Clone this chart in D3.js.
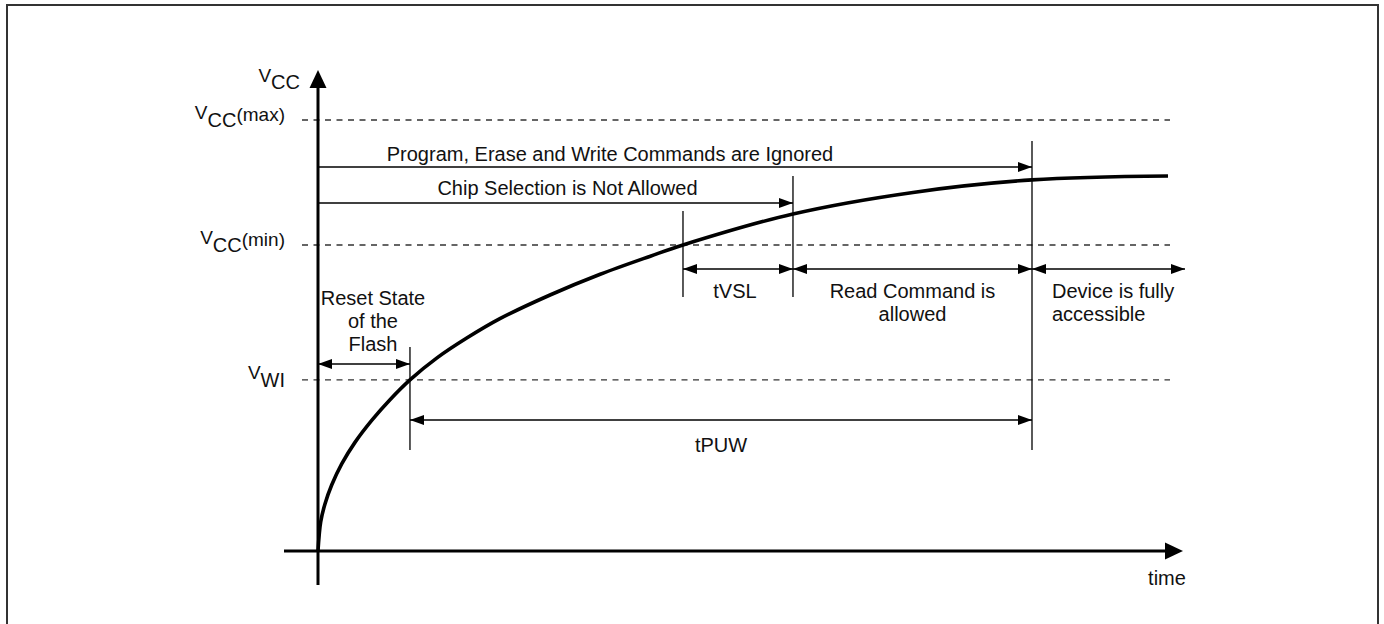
<!DOCTYPE html>
<html>
<head>
<meta charset="utf-8">
<script src="https://cdn.jsdelivr.net/npm/d3@7"></script>
<style>
  html, body { margin: 0; padding: 0; background: #fff; }
  svg { display: block; }
  text { font-family: Arial, "Liberation Sans", Helvetica, sans-serif; fill: #111; }
</style>
</head>
<body>
<svg id="chart" width="1384" height="624"></svg>
<script>
// ---- data (time in % of span, voltage in % of Vcc(max)) ----
const curveT = [0, 0.32, 0.82, 1.61, 2.79, 4.35, 6.32, 8.47, 10.82, 14.0, 17.5, 21.4, 27.3, 33.2, 39.1, 42.94, 55.88, 70.0, 84.0, 100];
const curveV = [0, 6.8, 10.9, 15.3, 20.2, 25.2, 30.3, 35.1, 39.7, 44.8, 49.4, 53.9, 59.4, 64.2, 68.4, 71.0, 78.2, 83.2, 86.1, 87.0];

const levelNames = ["CC", "CC", "WI"];
const levelSuffix = ["(max)", "(min)", ""];
const levelValues = [100, 71.0, 39.7];

const tWI = 10.82;    // Vcc reaches V_WI
const tMin = 42.94;   // Vcc reaches Vcc(min)
const tVSL = 55.88;   // end of tVSL
const tPUW = 84.0;    // end of tPUW
const tEnd = 102;     // right end of "fully accessible" arrow

const spanLabels = {
  ignored: "Program, Erase and Write Commands are Ignored",
  chip: "Chip Selection is Not Allowed",
  tvsl: "tVSL",
  read: ["Read Command is", "allowed"],
  device: ["Device is fully", "accessible"],
  reset: ["Reset State", "of the", "Flash"],
  tpuw: "tPUW"
};

// ---- scales ----
const x = d3.scaleLinear().domain([0, 100]).range([318, 1168]);
const y = d3.scaleLinear().domain([0, 100]).range([551, 120]);

const svg = d3.select("#chart");

// frame
svg.append("rect").attr("x", 7).attr("y", 5).attr("width", 1371).attr("height", 700)
  .attr("fill", "none").attr("stroke", "#333").attr("stroke-width", 2);

// arrowhead marker
const defs = svg.append("defs");
defs.append("marker").attr("id", "ah").attr("viewBox", "0 0 14 10")
  .attr("refX", 14).attr("refY", 5).attr("markerWidth", 14).attr("markerHeight", 10)
  .attr("markerUnits", "userSpaceOnUse").attr("orient", "auto-start-reverse")
  .append("path").attr("d", "M0,0 L14,5 L0,10 Z").attr("fill", "#000");

// dashed level lines
svg.selectAll("line.level").data(levelValues).enter().append("line")
  .attr("class", "level")
  .attr("x1", 302).attr("x2", 1170)
  .attr("y1", d => y(d)).attr("y2", d => y(d))
  .attr("stroke", "#333").attr("stroke-width", 1.4).attr("stroke-dasharray", "6,5.5");

// level labels
levelValues.forEach((v, i) => {
  const t = svg.append("text").attr("x", 285).attr("y", y(v) - 1).attr("text-anchor", "end");
  t.append("tspan").attr("font-size", 19).text("V");
  t.append("tspan").attr("font-size", 20).attr("dy", 8).text(levelNames[i]);
  if (levelSuffix[i]) t.append("tspan").attr("font-size", 19).attr("dy", -6).text(levelSuffix[i]);
});

// axes
const axisG = svg.append("g");
axisG.append("line").attr("x1", x(0)).attr("x2", x(0)).attr("y1", 585).attr("y2", 84)
  .attr("stroke", "#000").attr("stroke-width", 3);
axisG.append("path").attr("d", `M${x(0)},70 L${x(0) + 8.5},88 L${x(0) - 8.5},88 Z`).attr("fill", "#000");
axisG.append("line").attr("x1", 284).attr("x2", 1170).attr("y1", y(0)).attr("y2", y(0))
  .attr("stroke", "#000").attr("stroke-width", 3);
axisG.append("path").attr("d", `M1183,${y(0)} L1165,${y(0) - 8.5} L1165,${y(0) + 8.5} Z`).attr("fill", "#000");

const yl = svg.append("text").attr("x", 300).attr("y", 82).attr("text-anchor", "end");
yl.append("tspan").attr("font-size", 19).text("V");
yl.append("tspan").attr("font-size", 20).attr("dy", 7).text("CC");

svg.append("text").attr("x", 1167).attr("y", 585).attr("text-anchor", "middle")
  .attr("font-size", 20).text("time");

// curve
const pts = curveT.map((t, i) => [t, curveV[i]]);
svg.append("path").datum(pts)
  .attr("d", d3.line().x(d => x(d[0])).y(d => y(d[1])).curve(d3.curveCatmullRom.alpha(0.5)))
  .attr("fill", "none").attr("stroke", "#000").attr("stroke-width", 3.6);

// vertical marker lines
const vlines = [[tWI, 347, 450], [tMin, 211, 297], [tVSL, 176, 297], [tPUW, 141, 450]];
vlines.forEach(([t, y1, y2]) => {
  svg.append("line").attr("x1", x(t)).attr("x2", x(t)).attr("y1", y1).attr("y2", y2)
    .attr("stroke", "#000").attr("stroke-width", 1.3);
});

// span arrows
function span(t1, t2, yy, both) {
  const l = svg.append("line").attr("x1", x(t1)).attr("x2", x(t2)).attr("y1", yy).attr("y2", yy)
    .attr("stroke", "#000").attr("stroke-width", 1.3).attr("marker-end", "url(#ah)");
  if (both) l.attr("marker-start", "url(#ah)");
}
span(0, tPUW, 167, false);
span(0, tVSL, 203, false);
span(tMin, tVSL, 269, true);
span(tVSL, tPUW, 269, true);
span(tPUW, tEnd, 269, true);
span(0, tWI, 364, true);
span(tWI, tPUW, 420, true);

function label(lines, cx, y0, anchor) {
  const arr = Array.isArray(lines) ? lines : [lines];
  arr.forEach((s, i) => {
    svg.append("text").attr("x", cx).attr("y", y0 + i * 23)
      .attr("text-anchor", anchor || "middle").attr("font-size", 20).text(s);
  });
}
label(spanLabels.ignored, (x(0) + x(tPUW)) / 2 - 65, 161);
label(spanLabels.chip, (x(0) + x(tVSL)) / 2 + 12, 195);
label(spanLabels.tvsl, (x(tMin) + x(tVSL)) / 2 - 3, 298);
label(spanLabels.read, (x(tVSL) + x(tPUW)) / 2, 298);
label(spanLabels.device, x(tPUW) + 20, 298, "start");
label(spanLabels.reset, (x(0) + x(tWI)) / 2 + 9, 305);
label(spanLabels.tpuw, (x(tWI) + x(tPUW)) / 2, 452);
</script>
</body>
</html>
